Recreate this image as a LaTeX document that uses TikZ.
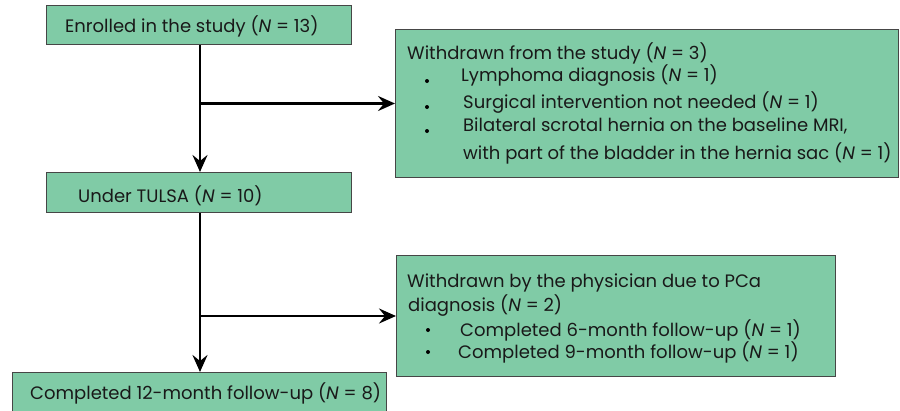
\documentclass[tikz,border=0pt]{standalone}
\usepackage{fontspec}
\setmainfont{Poppins}
\usetikzlibrary{arrows.meta}
\definecolor{boxgreen}{RGB}{128,203,166}
\definecolor{boxline}{RGB}{70,70,70}
\tikzset{
  box/.style={draw=boxline, line width=1pt, fill=boxgreen, anchor=north west, inner sep=0pt},
  txt/.style={anchor=west, inner sep=0pt, font=\fontsize{18}{21}\selectfont, text=black!90},
  dot/.style={circle, fill=black, inner sep=0pt, minimum size=4pt},
  arr/.style={line width=2.8pt, -{Stealth[length=17pt,width=15pt,inset=6pt]}}
}
\begin{document}
\begin{tikzpicture}[x=1pt,y=-1pt]
\clip (0,0) rectangle (900,410);
\fill[white] (0,0) rectangle (900,410);
% boxes
\node[box, minimum width=305pt, minimum height=39pt] (b1) at (46,5) {};
\node[box, minimum width=503pt, minimum height=148pt] (b2) at (395,29) {};
\node[box, minimum width=305pt, minimum height=40pt] (b3) at (46,172) {};
\node[box, minimum width=439pt, minimum height=121pt] (b4) at (396,255) {};
\node[box, minimum width=374pt, minimum height=44pt] (b5) at (12,372) {};
% texts
\node[txt] (t1) at (65,26) {Enrolled in the study (\textit{N} = 13)};
\node[txt] (t2) at (407,53) {Withdrawn from the study (\textit{N} = 3)};
\node[dot] (d21) at (427,81) {};
\node[txt] (t21) at (461,76) {Lymphoma diagnosis (\textit{N} = 1)};
\node[dot] (d22) at (427,107) {};
\node[txt] (t22) at (463,103) {Surgical intervention not needed (\textit{N} = 1)};
\node[dot] (d23) at (427,131) {};
\node[txt] (t23) at (463,126) {Bilateral scrotal hernia on the baseline MRI,};
\node[txt] (t24) at (463,153) {with part of the bladder in the hernia sac (\textit{N} = 1)};
\node[txt] (t3) at (78,196) {Under TULSA (\textit{N} = 10)};
\node[txt] (t4) at (407,283) {Withdrawn by the physician due to PCa};
\node[txt] (t41) at (408,306) {diagnosis (\textit{N} = 2)};
\node[dot] (d41) at (428,330) {};
\node[txt] (t42) at (460,330) {Completed 6-month follow-up (\textit{N} = 1)};
\node[dot] (d42) at (428,352) {};
\node[txt] (t43) at (458,352) {Completed 9-month follow-up (\textit{N} = 1)};
\node[txt] (t5) at (30,393) {Completed 12-month follow-up (\textit{N} = 8)};
% connectors
\coordinate (v) at (200,0);
\draw[arr] (b1.south -| v) -- (b3.north -| v);
\draw[arr] (b2.west -| v) -- (b2.west);
\draw[arr] (b3.south -| v) -- (b5.north -| v);
\draw[arr] (b4.west -| v) -- (b4.west);
\end{tikzpicture}
\end{document}
